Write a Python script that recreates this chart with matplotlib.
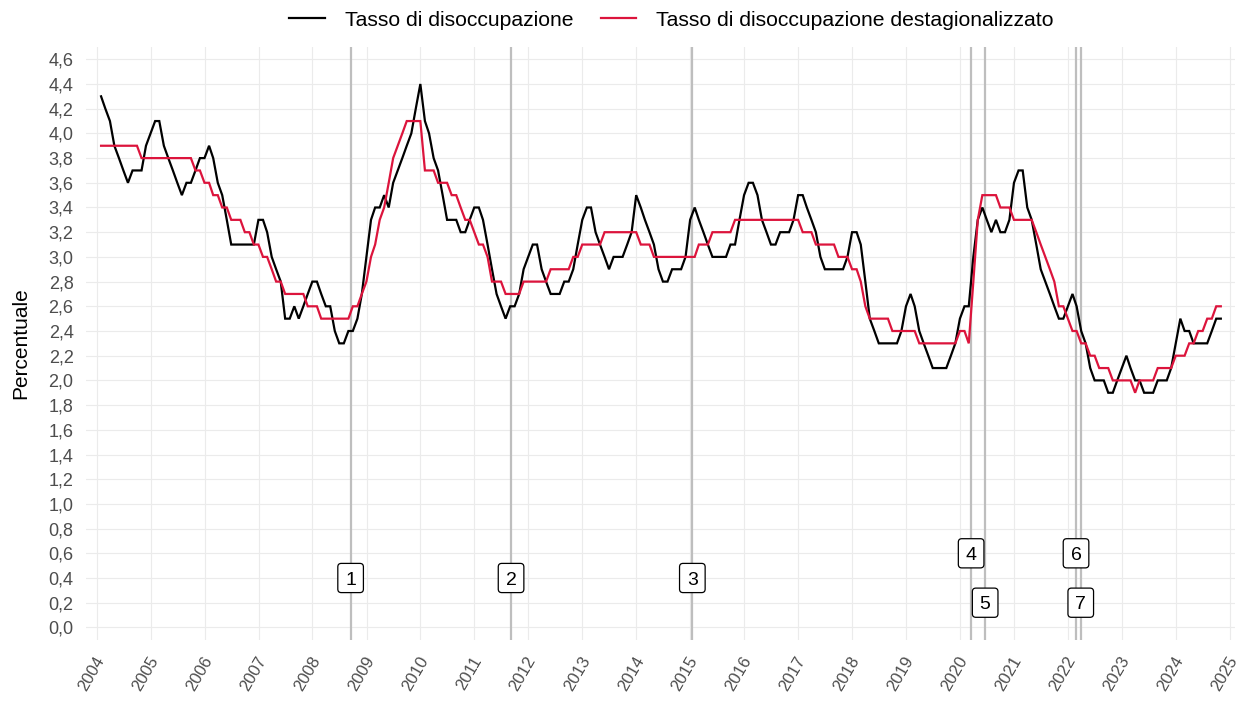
import matplotlib
matplotlib.use("Agg")
import matplotlib.pyplot as plt
import matplotlib.dates as mdates
import matplotlib.transforms as mtransforms
from matplotlib.patches import FancyBboxPatch
from matplotlib.lines import Line2D
import pandas as pd

plt.rcParams['font.family'] = ['Liberation Sans', 'DejaVu Sans']

# ---------------- data ----------------
first_month = "2004-01-31"   # monthly observations (month-end dates)

tasso = [
    4.3, 4.2, 4.1, 3.9, 3.8, 3.7, 3.6, 3.7, 3.7, 3.7, 3.9, 4.0,   # 2004
    4.1, 4.1, 3.9, 3.8, 3.7, 3.6, 3.5, 3.6, 3.6, 3.7, 3.8, 3.8,   # 2005
    3.9, 3.8, 3.6, 3.5, 3.3, 3.1, 3.1, 3.1, 3.1, 3.1, 3.1, 3.3,   # 2006
    3.3, 3.2, 3.0, 2.9, 2.8, 2.5, 2.5, 2.6, 2.5, 2.6, 2.7, 2.8,   # 2007
    2.8, 2.7, 2.6, 2.6, 2.4, 2.3, 2.3, 2.4, 2.4, 2.5, 2.7, 3.0,   # 2008
    3.3, 3.4, 3.4, 3.5, 3.4, 3.6, 3.7, 3.8, 3.9, 4.0, 4.2, 4.4,   # 2009
    4.1, 4.0, 3.8, 3.7, 3.5, 3.3, 3.3, 3.3, 3.2, 3.2, 3.3, 3.4,   # 2010
    3.4, 3.3, 3.1, 2.9, 2.7, 2.6, 2.5, 2.6, 2.6, 2.7, 2.9, 3.0,   # 2011
    3.1, 3.1, 2.9, 2.8, 2.7, 2.7, 2.7, 2.8, 2.8, 2.9, 3.1, 3.3,   # 2012
    3.4, 3.4, 3.2, 3.1, 3.0, 2.9, 3.0, 3.0, 3.0, 3.1, 3.2, 3.5,   # 2013
    3.4, 3.3, 3.2, 3.1, 2.9, 2.8, 2.8, 2.9, 2.9, 2.9, 3.0, 3.3,   # 2014
    3.4, 3.3, 3.2, 3.1, 3.0, 3.0, 3.0, 3.0, 3.1, 3.1, 3.3, 3.5,   # 2015
    3.6, 3.6, 3.5, 3.3, 3.2, 3.1, 3.1, 3.2, 3.2, 3.2, 3.3, 3.5,   # 2016
    3.5, 3.4, 3.3, 3.2, 3.0, 2.9, 2.9, 2.9, 2.9, 2.9, 3.0, 3.2,   # 2017
    3.2, 3.1, 2.8, 2.5, 2.4, 2.3, 2.3, 2.3, 2.3, 2.3, 2.4, 2.6,   # 2018
    2.7, 2.6, 2.4, 2.3, 2.2, 2.1, 2.1, 2.1, 2.1, 2.2, 2.3, 2.5,   # 2019
    2.6, 2.6, 3.0, 3.3, 3.4, 3.3, 3.2, 3.3, 3.2, 3.2, 3.3, 3.6,   # 2020
    3.7, 3.7, 3.4, 3.3, 3.1, 2.9, 2.8, 2.7, 2.6, 2.5, 2.5, 2.6,   # 2021
    2.7, 2.6, 2.4, 2.3, 2.1, 2.0, 2.0, 2.0, 1.9, 1.9, 2.0, 2.1,   # 2022
    2.2, 2.1, 2.0, 2.0, 1.9, 1.9, 1.9, 2.0, 2.0, 2.0, 2.1, 2.3,   # 2023
    2.5, 2.4, 2.4, 2.3, 2.3, 2.3, 2.3, 2.4, 2.5, 2.5,             # 2024
]

tasso_destag = [
    3.9, 3.9, 3.9, 3.9, 3.9, 3.9, 3.9, 3.9, 3.9, 3.8, 3.8, 3.8,   # 2004
    3.8, 3.8, 3.8, 3.8, 3.8, 3.8, 3.8, 3.8, 3.8, 3.7, 3.7, 3.6,   # 2005
    3.6, 3.5, 3.5, 3.4, 3.4, 3.3, 3.3, 3.3, 3.2, 3.2, 3.1, 3.1,   # 2006
    3.0, 3.0, 2.9, 2.8, 2.8, 2.7, 2.7, 2.7, 2.7, 2.7, 2.6, 2.6,   # 2007
    2.6, 2.5, 2.5, 2.5, 2.5, 2.5, 2.5, 2.5, 2.6, 2.6, 2.7, 2.8,   # 2008
    3.0, 3.1, 3.3, 3.4, 3.6, 3.8, 3.9, 4.0, 4.1, 4.1, 4.1, 4.1,   # 2009
    3.7, 3.7, 3.7, 3.6, 3.6, 3.6, 3.5, 3.5, 3.4, 3.3, 3.3, 3.2,   # 2010
    3.1, 3.1, 3.0, 2.8, 2.8, 2.8, 2.7, 2.7, 2.7, 2.7, 2.8, 2.8,   # 2011
    2.8, 2.8, 2.8, 2.8, 2.9, 2.9, 2.9, 2.9, 2.9, 3.0, 3.0, 3.1,   # 2012
    3.1, 3.1, 3.1, 3.1, 3.2, 3.2, 3.2, 3.2, 3.2, 3.2, 3.2, 3.2,   # 2013
    3.1, 3.1, 3.1, 3.0, 3.0, 3.0, 3.0, 3.0, 3.0, 3.0, 3.0, 3.0,   # 2014
    3.0, 3.1, 3.1, 3.1, 3.2, 3.2, 3.2, 3.2, 3.2, 3.3, 3.3, 3.3,   # 2015
    3.3, 3.3, 3.3, 3.3, 3.3, 3.3, 3.3, 3.3, 3.3, 3.3, 3.3, 3.3,   # 2016
    3.2, 3.2, 3.2, 3.1, 3.1, 3.1, 3.1, 3.1, 3.0, 3.0, 3.0, 2.9,   # 2017
    2.9, 2.8, 2.6, 2.5, 2.5, 2.5, 2.5, 2.5, 2.4, 2.4, 2.4, 2.4,   # 2018
    2.4, 2.4, 2.3, 2.3, 2.3, 2.3, 2.3, 2.3, 2.3, 2.3, 2.3, 2.4,   # 2019
    2.4, 2.3, 2.8, 3.3, 3.5, 3.5, 3.5, 3.5, 3.4, 3.4, 3.4, 3.3,   # 2020
    3.3, 3.3, 3.3, 3.3, 3.2, 3.1, 3.0, 2.9, 2.8, 2.6, 2.6, 2.5,   # 2021
    2.4, 2.4, 2.3, 2.3, 2.2, 2.2, 2.1, 2.1, 2.1, 2.0, 2.0, 2.0,   # 2022
    2.0, 2.0, 1.9, 2.0, 2.0, 2.0, 2.0, 2.1, 2.1, 2.1, 2.1, 2.2,   # 2023
    2.2, 2.2, 2.3, 2.3, 2.4, 2.4, 2.5, 2.5, 2.6, 2.6,             # 2024
]

series_labels = ["Tasso di disoccupazione", "Tasso di disoccupazione destagionalizzato"]
series_colors = ["#000000", "#DC143C"]

event_labels = ["1", "2", "3", "4", "5", "6", "7"]
event_dates = ["2008-09-15", "2011-09-06", "2015-01-15", "2020-03-16",
               "2020-06-19", "2022-02-24", "2022-03-28"]
event_label_y = [0.4, 0.4, 0.4, 0.6, 0.2, 0.6, 0.2]

year_ticks = list(range(2004, 2026))
y_ticks = [round(0.2 * i, 1) for i in range(0, 24)]

# ---------------- figure ----------------
W, H = 1240, 702
fig = plt.figure(figsize=(W / 100, H / 100), dpi=100)
left, right, top, bottom = 86, 1235, 46.7, 640
ax = fig.add_axes([left / W, 1 - bottom / H, (right - left) / W, (bottom - top) / H])

dates = pd.date_range(first_month, periods=len(tasso), freq="ME")
xd = mdates.date2num(dates.to_pydatetime())

grid_col = "#EBEBEB"
ax.set_facecolor("white")
for s in ax.spines.values():
    s.set_visible(False)

ax.set_axisbelow(True)
ax.grid(True, color=grid_col, linewidth=0.85)

# event lines
for d in event_dates:
    ax.axvline(mdates.date2num(pd.Timestamp(d)), color="#BEBEBE", linewidth=1.6, zorder=2)

ax.plot(xd, tasso, color=series_colors[0], linewidth=1.6, zorder=3, solid_joinstyle="miter")
ax.plot(xd, tasso_destag, color=series_colors[1], linewidth=1.6, zorder=4, solid_joinstyle="miter")

# event labels (boxes)
for lab, d, yv in zip(event_labels, event_dates, event_label_y):
    xv = mdates.date2num(pd.Timestamp(d))
    trans = fig.dpi_scale_trans + mtransforms.ScaledTranslation(xv, yv, ax.transData)
    box = FancyBboxPatch((-0.128, -0.146), 0.256, 0.292,
                         boxstyle="round,pad=0,rounding_size=0.035",
                         facecolor="white", edgecolor="black", linewidth=0.9,
                         transform=trans, zorder=6, clip_on=False)
    ax.add_artist(box)
    ax.text(xv, yv, lab, ha="center", va="center_baseline", fontsize=14,
            color="black", zorder=7)

# axes limits / ticks
x0 = mdates.date2num(pd.Timestamp("2004-01-01") - pd.Timedelta(days=72))
x1 = mdates.date2num(pd.Timestamp("2025-01-01") + pd.Timedelta(days=34))
ax.set_xlim(x0, x1)
ax.set_ylim(-0.102, 4.702)

ax.set_xticks([mdates.date2num(pd.Timestamp(f"{y}-01-01")) for y in year_ticks])
ax.set_xticklabels([str(y) for y in year_ticks], rotation=60, ha="right", va="top",
                   rotation_mode="anchor")
ax.set_yticks(y_ticks)
ax.set_yticklabels([f"{v:.1f}".replace(".", ",") for v in y_ticks])
ax.tick_params(axis="both", length=0, labelcolor="#4D4D4D")
ax.tick_params(axis="x", pad=10.0, labelsize=12)
ax.tick_params(axis="y", pad=9.0, labelsize=13)

shift = mtransforms.ScaledTranslation(-2.5 / 100, 0, fig.dpi_scale_trans)
for tk in ax.xaxis.get_major_ticks():
    tk.label1.set_transform(tk.label1.get_transform() + shift)

fig.text(21 / W, 1 - 343 / H, "Percentuale", rotation=90, ha="center", va="center",
         fontsize=15, color="black")

handles = [Line2D([], [], color=c, linewidth=1.6) for c in series_colors]
fig.legend(handles, series_labels, loc="center", bbox_to_anchor=(671.5 / W, 1 - 20 / H),
           ncol=2, frameon=False, fontsize=15.2, handlelength=1.68, handletextpad=0.95,
           columnspacing=1.3, borderaxespad=0, borderpad=0)

fig.savefig("out.png", dpi=100, facecolor="white")
